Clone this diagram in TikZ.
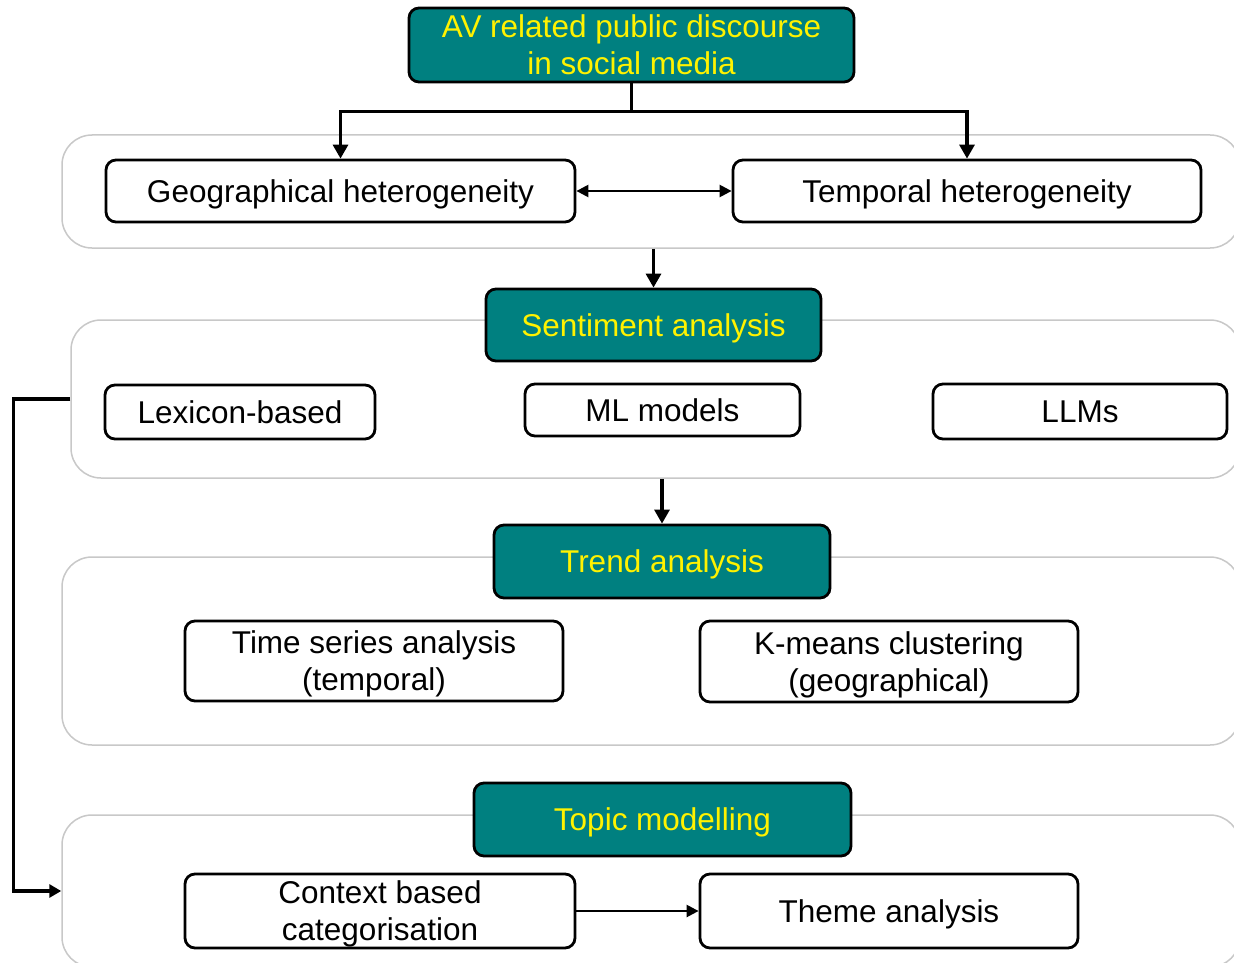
\documentclass[tikz,border=0pt]{standalone}
\usepackage{fontspec}
\setmainfont{Liberation Sans}
\usetikzlibrary{arrows.meta}
\definecolor{teal}{RGB}{0,128,128}
\definecolor{grpline}{RGB}{200,200,200}
% centred label text, set a little lower inside its box
\newcommand\boxlabel[1]{\raisebox{-4pt}[\height][\depth]{\begin{tabular}{@{}c@{}}#1\end{tabular}}}
\tikzset{
  grp/.style={draw=grpline, line width=1.5pt, rounded corners=30pt, fill=white, inner sep=0pt},
  headbox/.style={draw=black, line width=2.8pt, rounded corners=10pt, fill=teal,
    text=yellow, inner sep=0pt, font=\fontsize{31.5}{37}\selectfont},
  itembox/.style={draw=black, line width=2.8pt, rounded corners=10pt, fill=white,
    inner sep=0pt, font=\fontsize{31.5}{37}\selectfont},
  link/.style={line width=3.2pt, -{Triangle[length=14pt,width=15pt]}},
  thinlink/.style={line width=2.4pt, -{Triangle[length=12pt,width=12pt]}},
}
\begin{document}
\begin{tikzpicture}[x=1pt,y=-1pt]
\useasboundingbox (0,0) rectangle (1234,963);
\clip (0,0) rectangle (1234,963);
\fill[white] (0,0) rectangle (1234,963);

% grouping panels
\node[grp, minimum width=1178pt, minimum height=113pt] (g1) at (651,191.5) {};
\node[grp, minimum width=1169pt, minimum height=158pt] (g2) at (655.5,399) {};
\node[grp, minimum width=1178pt, minimum height=188pt] (g3) at (651,651) {};
\node[grp, minimum width=1178pt, minimum height=152pt] (g4) at (651,891) {};

% stage headers
\node[headbox, minimum width=445pt, minimum height=72pt] (top) at (631.5,45) {\boxlabel{AV related public discourse\\in social media}};
\node[headbox, minimum width=335pt, minimum height=72pt] (sent) at (653.5,325) {\boxlabel{Sentiment analysis}};
\node[headbox, minimum width=336pt, minimum height=73pt] (trend) at (662,561.5) {\boxlabel{Trend analysis}};
\node[headbox, minimum width=377pt, minimum height=73pt] (topic) at (662.5,819.5) {\boxlabel{Topic modelling}};

% heterogeneity
\node[itembox, minimum width=469pt, minimum height=62pt] (geo) at (340.5,191) {\boxlabel{Geographical heterogeneity}};
\node[itembox, minimum width=468pt, minimum height=62pt] (temp) at (967,191) {\boxlabel{Temporal heterogeneity}};

% sentiment methods
\node[itembox, minimum width=270pt, minimum height=54pt] (lex) at (240,412) {\boxlabel{Lexicon-based}};
\node[itembox, minimum width=275pt, minimum height=52pt] (ml) at (662.5,410) {\boxlabel{ML models}};
\node[itembox, minimum width=294pt, minimum height=55pt] (llm) at (1080,411.5) {\boxlabel{LLMs}};

% trend methods
\node[itembox, minimum width=378pt, minimum height=80pt] (ts) at (374,661) {\boxlabel{Time series analysis\\(temporal)}};
\node[itembox, minimum width=378pt, minimum height=81pt] (km) at (889,661.5) {\boxlabel{K-means clustering\\(geographical)}};

% topic methods
\node[itembox, minimum width=390pt, minimum height=74pt] (ctx) at (380,911) {\boxlabel{Context based\\categorisation}};
\node[itembox, minimum width=378pt, minimum height=74pt] (theme) at (889,911) {\boxlabel{Theme analysis}};

% connectors
\draw[link, -] (top.south) -- ++(0,28) coordinate (split);
\draw[link] (split) -| (geo.north);
\draw[link] (split) -| (temp.north);
\draw[thinlink, {Triangle[length=12pt,width=12pt]}-{Triangle[length=12pt,width=12pt]}] (geo.east) -- (temp.west);
\draw[link] (sent.north |- g1.south) -- (sent.north);
\draw[link] (trend.north |- g2.south) -- (trend.north);
\draw[thinlink] (ctx.east) -- (theme.west);
\draw[line width=3.2pt, -{Triangle[length=12pt,width=13pt]}] (g2.west) -- ++(-57,0) |- (g4.west);
\end{tikzpicture}
\end{document}
